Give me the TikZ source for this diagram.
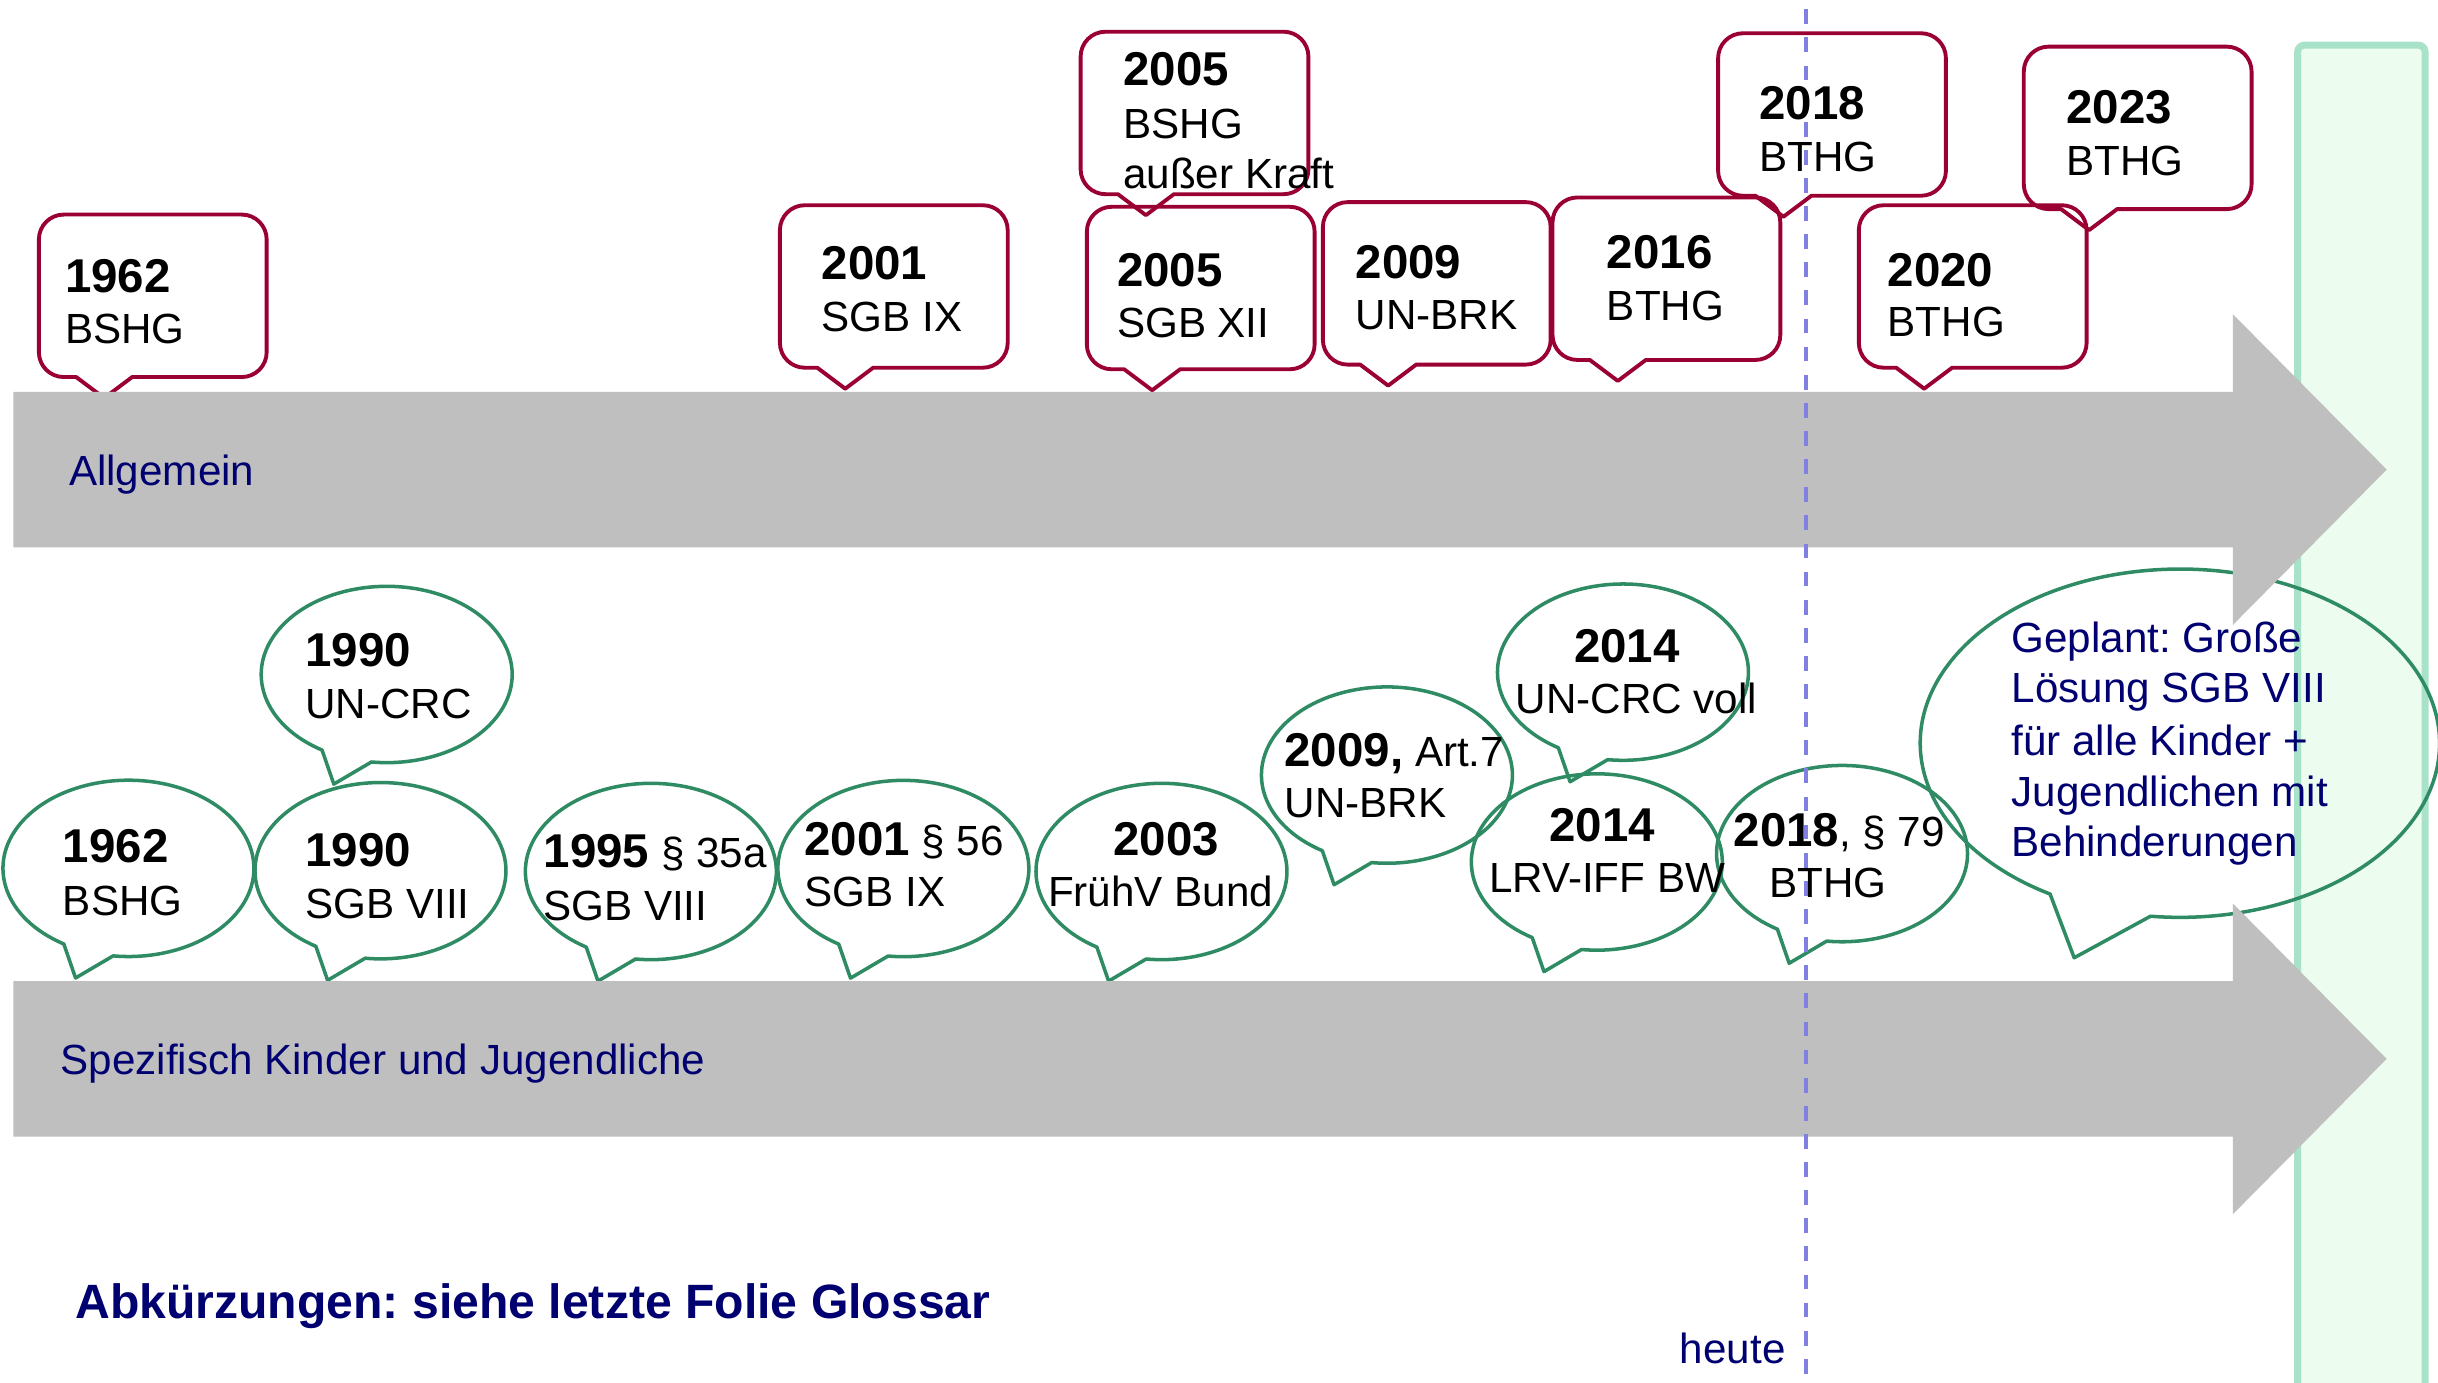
\documentclass[tikz,border=0pt]{standalone}
\usepackage{fontspec}
\setmainfont{Liberation Sans}
\frenchspacing
\definecolor{crim}{RGB}{155,0,51}
\definecolor{bgreen}{RGB}{46,139,99}
\definecolor{navy}{RGB}{0,0,112}
\definecolor{barg}{RGB}{191,191,191}
\definecolor{pnlline}{RGB}{168,226,200}
\definecolor{pnlfill}{RGB}{236,252,238}
\definecolor{dashc}{RGB}{128,128,224}
\newcommand\yrf{\bfseries\fontsize{13.5pt}{16pt}\selectfont}
\newcommand\rcal[2]{%
  \draw[rb] ({#1+24},{#2+104.5}) -- ({#1+16},{#2+104.5})
    arc[start angle=90,end angle=180,radius=16] -- (#1,{#2+16})
    arc[start angle=180,end angle=270,radius=16] -- ({#1+130.5},#2)
    arc[start angle=270,end angle=360,radius=16] -- ({#1+146.5},{#2+88.5})
    arc[start angle=0,end angle=90,radius=16] -- ({#1+60},{#2+104.5})
    -- ({#1+42},{#2+118}) -- cycle;}
\newcommand\gbub[2]{%
  \draw[gb] (#1,#2) ++(121:80.7 and 56.7)
    arc[start angle=121,end angle=457,x radius=80.7,y radius=56.7]
    -- ({#1-34},{#2+70.5}) -- cycle;}
\begin{document}
\begin{tikzpicture}[x=0.155485mm,y=-0.155485mm,
  rb/.style={draw=crim,line width=1.1pt,line join=round},
  gb/.style={draw=bgreen,line width=1pt,line join=round},
  txt/.style={anchor=base west,inner sep=0pt,font=\fontsize{12pt}{14pt}\selectfont},
  yr/.style={anchor=base west,inner sep=0pt,font=\yrf},
  lbl/.style={anchor=base west,inner sep=0pt,text=navy,font=\fontsize{12pt}{14pt}\selectfont}]
\useasboundingbox (0,0) rectangle (1568,889);
% right panel
\draw[draw=pnlline,fill=pnlfill,line width=2pt,rounded corners=2pt] (1477.7,29) rectangle (1559.7,905);
% green bubbles
\gbub{82.6}{558.5}
\gbub{248.7}{433.8}
\gbub{244.7}{560}
\gbub{418.6}{560.5}
\gbub{581}{558.6}
\gbub{747}{560.5}
\gbub{892}{498.5}
\gbub{1043.8}{432.3}
\gbub{1027}{554.4}
\gbub{1184.7}{549}
\draw[gb] (1402,478) ++(120:167 and 112)
  arc[start angle=120,end angle=456.5,x radius=167,y radius=112]
  -- (1334,616) -- cycle;
% red callouts
\rcal{25}{138}
\rcal{501.6}{132}
\rcal{699}{133}
\rcal{695}{20.4}
\rcal{850.8}{130}
\rcal{998.5}{127}
\rcal{1105}{21.4}
\rcal{1195.5}{132}
\rcal{1301.6}{30}
% gray arrows
\fill[barg] (8.6,252) -- (1436,252) -- (1436,202) -- (1535,302) -- (1436,402) -- (1436,352) -- (8.6,352) -- cycle;
\fill[barg] (8.6,631) -- (1436,631) -- (1436,581) -- (1535,681) -- (1436,781) -- (1436,731) -- (8.6,731) -- cycle;
% today line
\coordinate (dtop) at (1161.5,6);
\coordinate (dbot) at (1161.5,892);
\draw[dashc,line width=0.93pt,dash pattern=on 4.2pt off 3.8pt] (dtop) -- (dbot);
% bar labels
\node[lbl] (allg) at (44,312) {Allgemein};
\node[lbl] (spez) at (38.5,691) {Spezifisch Kinder und Jugendliche};
\node[lbl,font=\bfseries\fontsize{13.7pt}{16pt}\selectfont] (abk) at (48,848) {Abkürzungen: siehe letzte Folie Glossar};
\node[lbl] (heute) at (1080,876.7) {heute};
% top callout texts
\node[yr] (a1) at (41.5,188) {1962};
\node[txt] (a2) at (41.5,221) {BSHG};
\node[yr] (b1) at (528,179.5) {2001};
\node[txt] (b2) at (528,213) {SGB IX};
\node[yr] (c1) at (722,55.3) {2005};
\node[txt] (c2) at (722,89) {BSHG};
\node[txt] (c3) at (722,121) {außer Kraft};
\node[yr] (d1) at (718,184) {2005};
\node[txt] (d2) at (718,217) {SGB XII};
\node[yr] (e1) at (871.5,179) {2009};
\node[txt] (e2) at (871.5,212) {UN-BRK};
\node[yr] (f1) at (1033,173) {2016};
\node[txt] (f2) at (1033,206) {BTHG};
\node[yr] (g1) at (1131,77) {2018};
\node[txt] (g2) at (1131,110) {BTHG};
\node[yr] (h1) at (1213.6,184) {2020};
\node[txt] (h2) at (1213.6,216.5) {BTHG};
\node[yr] (i1) at (1328.6,79.3) {2023};
\node[txt] (i2) at (1328.6,113) {BTHG};
% bubble texts
\node[yr] (p1) at (40,555) {1962};
\node[txt] (p2) at (40,588.5) {BSHG};
\node[yr] (q1) at (196,428.7) {1990};
\node[txt] (q2) at (196,461.8) {UN-CRC};
\node[yr] (r1) at (196,557.4) {1990};
\node[txt] (r2) at (196,590.5) {SGB VIII};
\node[txt] (s1) at (349.3,558) {{\yrf 1995} § 35a};
\node[txt] (s2) at (349,592) {SGB VIII};
\node[txt] (u1) at (517,550.5) {{\yrf 2001} § 56};
\node[txt] (u2) at (517,582.7) {SGB IX};
\node[yr,anchor=base] (v1) at (750,550.5) {2003};
\node[txt,anchor=base] (v2) at (746.5,582.7) {FrühV Bund};
\node[txt] (w1) at (825.7,493) {{\yrf 2009,} Art.7};
\node[txt] (w2) at (825.7,526) {UN-BRK};
\node[yr] (x1) at (1012,426) {2014};
\node[txt] (x2) at (974.3,459) {UN-CRC voll};
\node[yr] (y1) at (996,541.3) {2014};
\node[txt] (y2) at (957.3,574.3) {LRV-IFF BW};
\node[txt] (z1) at (1114.6,544.5) {{\yrf 2018}, § 79};
\node[txt] (z2) at (1137.6,577.5) {BTHG};
% planned
\node[lbl] (g1a) at (1293.3,419.7) {Geplant: Große};
\node[lbl] (g2a) at (1293.3,452) {Lösung SGB VIII};
\node[lbl] (g3a) at (1293.3,485.6) {für alle Kinder +};
\node[lbl] (g4a) at (1293.3,518.8) {Jugendlichen mit};
\node[lbl] (g5a) at (1293.3,551) {Behinderungen};
\end{tikzpicture}
\end{document}
